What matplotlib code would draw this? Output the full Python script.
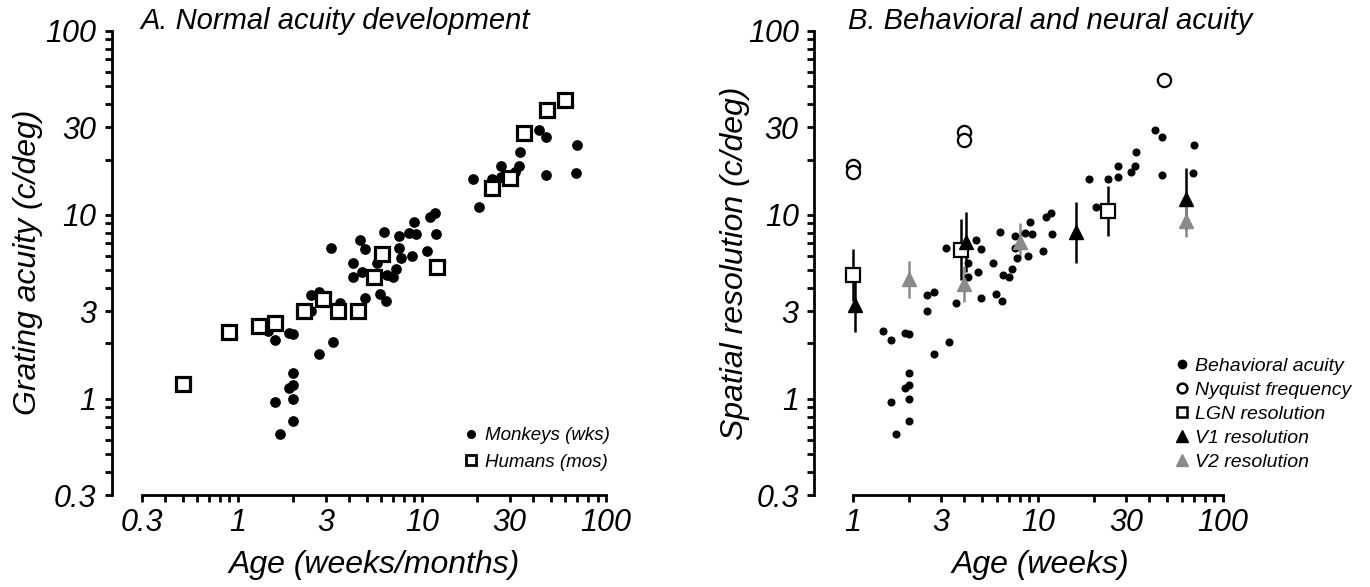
import matplotlib
matplotlib.use("Agg")
import matplotlib.pyplot as plt
from matplotlib.lines import Line2D
from matplotlib.ticker import FixedLocator, NullFormatter

plt.rcParams['font.family'] = ['Liberation Sans', 'DejaVu Sans']
plt.rcParams['font.style'] = 'italic'

# monkey behavioral acuity (age in weeks, acuity in c/deg) - same data in both panels
monkey_age = [1.7, 2.0, 1.6, 2.0, 1.9, 2.0, 2.0, 1.6, 1.45, 1.9, 2.0, 2.75, 3.3,
              2.5, 2.5, 2.75, 3.6, 3.2, 4.2, 4.2, 4.75, 4.6, 4.9, 4.9, 5.9, 6.4,
              5.7, 6.2, 6.45, 7.0, 7.2, 7.5, 7.5, 7.7, 8.8, 8.5, 9.3, 9.1, 10.6,
              11.1, 11.8, 11.9, 19, 20.5, 24, 27, 27, 34, 33.5, 32, 43, 47, 47,
              70, 69]
monkey_acuity = [0.64, 0.76, 0.96, 1.0, 1.14, 1.19, 1.39, 2.1, 2.35, 2.27, 2.24,
                 1.75, 2.05, 3.0, 3.65, 3.8, 3.3, 6.6, 5.5, 4.6, 4.9, 7.3, 6.5,
                 3.55, 3.7, 3.4, 5.45, 8.1, 4.7, 4.6, 5.1, 7.7, 6.6, 5.85, 6.0,
                 8.0, 7.9, 9.2, 6.4, 9.7, 10.3, 7.9, 15.7, 11.1, 15.7, 18.5, 16.1,
                 22, 18.4, 17.2, 29, 26.6, 16.4, 24, 16.8]

# human acuity (age in months)
human_age = [0.5, 0.9, 1.3, 1.6, 2.3, 2.9, 3.5, 4.5, 5.5, 6.1, 12, 24, 30, 36, 48, 60]
human_acuity = [1.2, 2.3, 2.5, 2.6, 3.0, 3.5, 3.0, 3.0, 4.6, 6.1, 5.2, 14, 15.8, 28, 37, 42]

# panel B: neural measures (age in weeks)
nyq_age = [1, 1, 4, 4, 48]
nyq_res = [18.4, 17.2, 28.3, 25.5, 54]

lgn_age = [1, 3.86, 23.8]
lgn_res = [4.7, 6.45, 10.5]
lgn_lo = [3.4, 4.4, 7.7]
lgn_hi = [6.5, 9.5, 14.4]

v1_age = [1.03, 4.08, 16.1, 63]
v1_res = [3.24, 7.15, 8.1, 12.2]
v1_lo = [2.32, 4.9, 5.46, 8.3]
v1_hi = [4.5, 10.4, 11.8, 17.9]

v2_age = [2.0, 4.0, 8.0, 63]
v2_res = [4.5, 4.2, 7.15, 9.3]
v2_lo = [3.52, 3.37, 5.9, 7.55]
v2_hi = [5.6, 5.26, 9.0, 11.6]

y_ticks = [0.3, 1, 3, 10, 30, 100]
y_labels = ['0.3', '1', '3', '10', '30', '100']
xa_ticks = [0.3, 1, 3, 10, 30, 100]
xa_labels = ['0.3', '1', '3', '10', '30', '100']
xb_ticks = [1, 3, 10, 30, 100]
xb_labels = ['1', '3', '10', '30', '100']

gray = '#8a8a8a'
fs_tick = 22
fs_label = 23


def minor_ticks(lo, hi):
    out = []
    dec = 0.1
    while dec < hi:
        for k in range(1, 10):
            v = round(k * dec, 6)
            if lo <= v <= hi and v not in y_ticks:
                out.append(v)
        dec *= 10
    return out


def style_axes(ax, xlim, xbounds, xt, xl):
    ax.set_xscale('log')
    ax.set_yscale('log')
    ax.set_xlim(*xlim)
    ax.set_ylim(0.3, 100)
    for s in ['top', 'right']:
        ax.spines[s].set_visible(False)
    ax.spines['left'].set_linewidth(2)
    ax.spines['bottom'].set_linewidth(2)
    ax.spines['left'].set_bounds(0.3, 100)
    ax.spines['bottom'].set_bounds(*xbounds)
    ax.xaxis.set_major_locator(FixedLocator(xt))
    ax.set_xticklabels(xl)
    ax.xaxis.set_minor_locator(FixedLocator(minor_ticks(xbounds[0], xbounds[1])))
    ax.yaxis.set_major_locator(FixedLocator(y_ticks))
    ax.set_yticklabels(y_labels)
    ax.yaxis.set_minor_locator(FixedLocator(minor_ticks(0.3, 100)))
    ax.xaxis.set_minor_formatter(NullFormatter())
    ax.yaxis.set_minor_formatter(NullFormatter())
    ax.tick_params(which='both', direction='out', length=5, width=2)
    ax.tick_params(axis='both', which='major', labelsize=fs_tick)
    ax.tick_params(axis='y', which='both', pad=6)
    ax.tick_params(axis='x', which='both', pad=4)


fig = plt.figure(figsize=(13.7, 5.87), dpi=100)
axA = fig.add_axes([0.0815, 0.1567, 0.3608, 0.7905])
axB = fig.add_axes([0.5942, 0.1567, 0.2983, 0.7905])

# ---- panel A
style_axes(axA, (0.206, 100), (0.3, 100), xa_ticks, xa_labels)
axA.plot(monkey_age, monkey_acuity, 'o', color='black', ms=6.7, mec='black', clip_on=False)
axA.plot(human_age, human_acuity, 's', mfc='white', mec='black', mew=2.3, ms=10, clip_on=False)
handlesA = [
    Line2D([], [], ls='none', marker='o', color='black', ms=5.5),
    Line2D([], [], ls='none', marker='s', mfc='white', mec='black', mew=2, ms=7.5),
]
axA.legend(handlesA, ['Monkeys (wks)', 'Humans (mos)'], loc='lower left',
           bbox_to_anchor=(0.712, 0.052), frameon=False, borderpad=0, borderaxespad=0,
           fontsize=13.5, handlelength=0.8, handletextpad=0.35, labelspacing=0.5)
axA.set_xlabel('Age (weeks/months)', fontsize=fs_label)
axA.xaxis.set_label_coords(0.531, -0.151)
axA.xaxis.label.set_va('center')
axA.set_ylabel('Grating acuity (c/deg)', fontsize=fs_label)
axA.yaxis.set_label_coords(-0.169, 0.502)
axA.yaxis.label.set_va('center')

# ---- panel B
style_axes(axB, (0.615, 100), (1, 100), xb_ticks, xb_labels)


def err(vals, lo, hi):
    return [[v - l for v, l in zip(vals, lo)], [h - v for v, h in zip(vals, hi)]]


axB.errorbar(lgn_age, lgn_res, yerr=err(lgn_res, lgn_lo, lgn_hi), fmt='none',
             ecolor='black', elinewidth=1.8, capsize=0, zorder=2)
axB.errorbar(v1_age, v1_res, yerr=err(v1_res, v1_lo, v1_hi), fmt='none',
             ecolor='black', elinewidth=1.8, capsize=0, zorder=2)
axB.errorbar(v2_age, v2_res, yerr=err(v2_res, v2_lo, v2_hi), fmt='none',
             ecolor=gray, elinewidth=1.8, capsize=0, zorder=2)
axB.plot(monkey_age, monkey_acuity, 'o', color='black', ms=4.8, zorder=3)
axB.plot(nyq_age, nyq_res, 'o', mfc='white', mec='black', mew=1.6, ms=9.5,
         zorder=3, clip_on=False)
axB.plot(lgn_age, lgn_res, 's', mfc='white', mec='black', mew=1.6, ms=10, zorder=4)
axB.plot(v1_age, v1_res, '^', color='black', ms=10, zorder=4)
axB.plot(v2_age, v2_res, '^', color=gray, ms=10, zorder=4)
handlesB = [
    Line2D([], [], ls='none', marker='o', color='black', ms=6),
    Line2D([], [], ls='none', marker='o', mfc='white', mec='black', mew=1.8, ms=7),
    Line2D([], [], ls='none', marker='s', mfc='white', mec='black', mew=1.8, ms=7),
    Line2D([], [], ls='none', marker='^', color='black', ms=8),
    Line2D([], [], ls='none', marker='^', color=gray, ms=8),
]
axB.legend(handlesB, ['Behavioral acuity', 'Nyquist frequency', 'LGN resolution',
                      'V1 resolution', 'V2 resolution'],
           loc='lower left', bbox_to_anchor=(0.881, 0.052), frameon=False,
           borderpad=0, borderaxespad=0, fontsize=14, handlelength=0.8,
           handletextpad=0.3, labelspacing=0.33)
axB.set_xlabel('Age (weeks)', fontsize=fs_label)
axB.xaxis.set_label_coords(0.553, -0.151)
axB.xaxis.label.set_va('center')
axB.set_ylabel('Spatial resolution (c/deg)', fontsize=fs_label)
axB.yaxis.set_label_coords(-0.193, 0.5)
axB.yaxis.label.set_va('center')

fig.text(140 / 1370, 1 - 21 / 587, 'A. Normal acuity development', fontsize=21,
         va='center', ha='left')
fig.text(848 / 1370, 1 - 21 / 587, 'B. Behavioral and neural acuity', fontsize=21,
         va='center', ha='left')

fig.savefig('out.png', dpi=100)
